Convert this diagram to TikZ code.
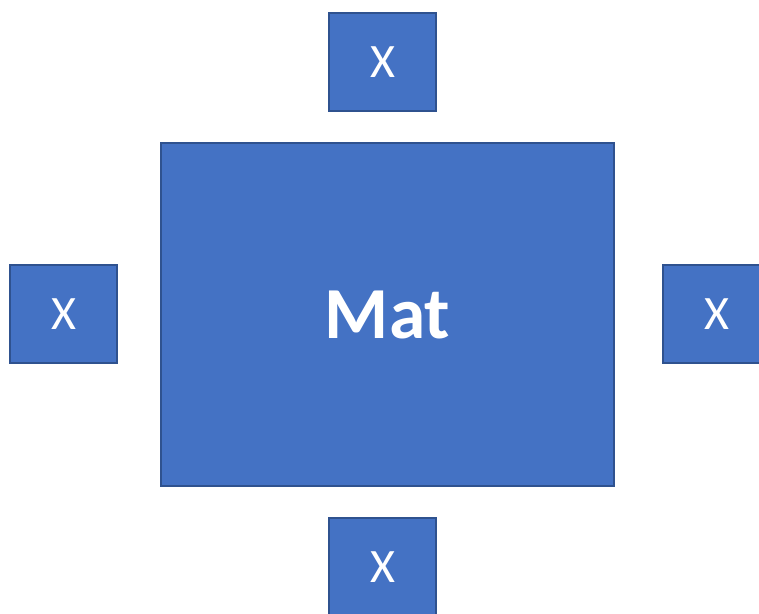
\documentclass[tikz,border=0pt]{standalone}
\usepackage{fontspec}
\setmainfont{Carlito}
\definecolor{boxblue}{HTML}{4472C4}
\definecolor{boxline}{HTML}{2F528F}
\tikzset{
    blockbox/.style={draw=boxline, line width=1.5pt, fill=boxblue, text=white,
        inner sep=0pt, text depth=0pt, font=\fontsize{36}{40}\selectfont},
    smallbox/.style={blockbox, minimum width=80.25pt, minimum height=73.5pt},
}

\begin{document}
\begin{tikzpicture}[x=0.75pt, y=-0.75pt]
        \useasboundingbox (0,0) rectangle (759,613);
        \clip (0,0) rectangle (759,613);

        \node[blockbox, minimum width=339.75pt, minimum height=257.25pt,
            font=\fontsize{55}{60}\selectfont\bfseries] (mat) at (387.5,314.5) {Mat};
        \node[smallbox] (xtop) at (382.5,62) {X};
        \node[smallbox] (xleft) at (63.5,314) {X};
        \node[smallbox] (xright) at (716.5,314) {X};
        \node[smallbox] (xbottom) at (382.5,567) {X};
    \end{tikzpicture}
\end{document}
